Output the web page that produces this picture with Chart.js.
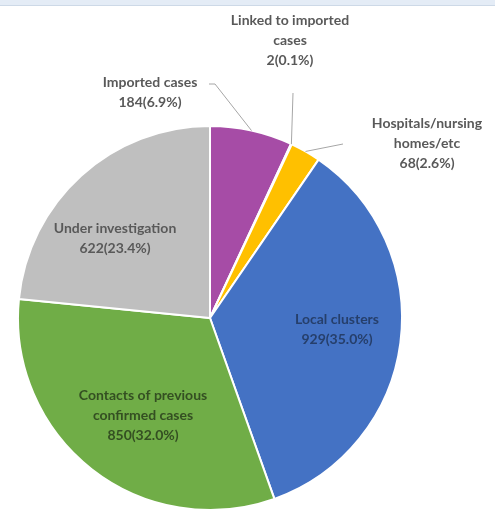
<!DOCTYPE html>
<html>
<head>
<meta charset="utf-8">
<script src="https://cdn.jsdelivr.net/npm/chart.js@4/dist/chart.umd.min.js"></script>
<style>
  html, body { margin: 0; padding: 0; background: #fff; }
  #wrap { position: relative; width: 495px; height: 511px; }
  #band { position: absolute; left: 0; top: 0; width: 495px; height: 5px; background: #e4ecf6; border-bottom: 1px solid #cdd9e7; z-index: 2; }
  canvas { position: absolute; left: 0; top: 0; }
</style>
</head>
<body>
<div id="wrap">
  <div id="band"></div>
  <canvas id="c" width="495" height="511"></canvas>
</div>
<script>
const categories = ["Imported cases", "Linked to imported cases", "Hospitals/nursing homes/etc", "Local clusters", "Contacts of previous confirmed cases", "Under investigation"];
const caseCounts = [184, 2, 68, 929, 850, 622];
const percentLabels = ["6.9%", "0.1%", "2.6%", "35.0%", "32.0%", "23.4%"];
const labelLines = [
  ["Imported cases"],
  ["Linked to imported", "cases"],
  ["Hospitals/nursing", "homes/etc"],
  ["Local clusters"],
  ["Contacts of previous", "confirmed cases"],
  ["Under investigation"]
];
const sliceColors = ["#a64ca6", "#ffc000", "#ffc000", "#4472c4", "#70ad47", "#bfbfbf"];

// label layout (text centre of first line, leader elbow points)
const labelLayout = [
  { x: 150, y: 82, color: "#595959", leader: [[215, 84], [209, 84]] },
  { x: 290, y: 20, color: "#595959", leader: [[293, 93]] },
  { x: 427, y: 123, color: "#595959", leader: [[343, 144]] },
  { x: 337, y: 319, color: "#263f6b" },
  { x: 143, y: 395, color: "#344f22" },
  { x: 115, y: 228, color: "#595959" }
];

const labelPlugin = {
  id: "pieLabels",
  afterDatasetsDraw(chart) {
    const ctx = chart.ctx;
    const meta = chart.getDatasetMeta(0);
    ctx.save();
    meta.data.forEach((arc, i) => {
      const L = labelLayout[i];
      const p = arc.getProps(["x", "y", "startAngle", "endAngle", "outerRadius"], true);
      if (L.leader) {
        const mid = (p.startAngle + p.endAngle) / 2;
        const ex = p.x + Math.cos(mid) * p.outerRadius;
        const ey = p.y + Math.sin(mid) * p.outerRadius;
        ctx.beginPath();
        ctx.strokeStyle = "#a6a6a6";
        ctx.lineWidth = 1;
        ctx.moveTo(ex, ey);
        L.leader.forEach(pt => ctx.lineTo(pt[0], pt[1]));
        ctx.stroke();
      }
      const lines = labelLines[i].concat([caseCounts[i] + "(" + percentLabels[i] + ")"]);
      ctx.fillStyle = L.color;
      ctx.font = "bold 14px Lato";
      ctx.textAlign = "center";
      ctx.textBaseline = "middle";
      lines.forEach((t, k) => ctx.fillText(t, L.x, L.y + k * 20));
    });
    ctx.restore();
  }
};

new Chart(document.getElementById("c"), {
  type: "pie",
  data: {
    labels: categories,
    datasets: [{
      data: caseCounts,
      backgroundColor: sliceColors,
      borderColor: "#ffffff",
      borderWidth: 2
    }]
  },
  options: {
    responsive: false,
    animation: false,
    layout: { padding: { left: 17, right: 92, top: 125, bottom: 0 } },
    plugins: { legend: { display: false }, tooltip: { enabled: false } }
  },
  plugins: [labelPlugin]
});
</script>
</body>
</html>
